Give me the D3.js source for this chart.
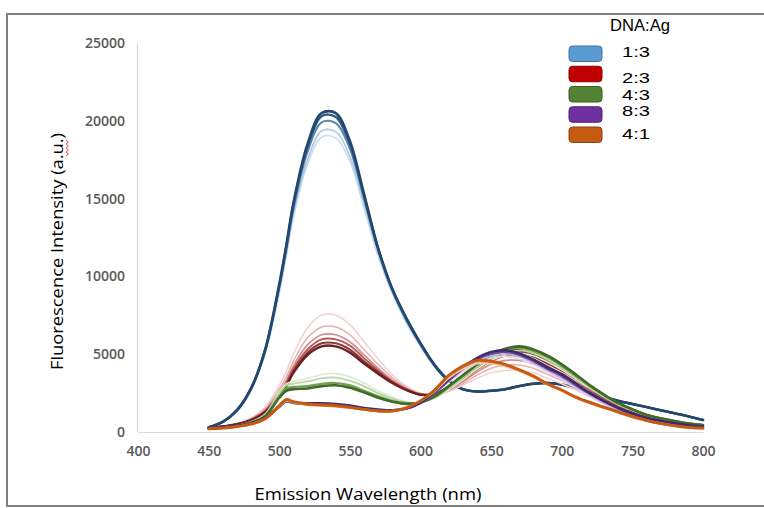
<!DOCTYPE html>
<html><head><meta charset="utf-8">
<script src="https://cdn.jsdelivr.net/npm/d3@7"></script>
<style>body{margin:0;background:#fff;}svg{display:block;}</style>
</head><body>
<script>
// ---------- DATA ----------
const wavelengths = [450,460,470,480,490,500,505,510,520,530,540,550,560,570,580,590,600,610,620,630,640,650,660,670,680,690,700,710,720,730,740,750,760,770,780,790,800];
const xTicks = [400,450,500,550,600,650,700,750,800];
const yTicks = [0,5000,10000,15000,20000,25000];
const ratioLabels = ["1:3","2:3","4:3","8:3","4:1"];
const legendTitle = "DNA:Ag";
const xTitle = "Emission Wavelength (nm)";
const yTitle = "Fluorescence Intensity (a.u.)";

// 1:3 replicates (lightest first)
const ratio13 = [
 [300,600,1300,2650,5000,8900,11300,13800,17200,18950,18900,17400,14400,11300,8900,7000,5500,4200,3250,2750,2600,2650,2750,2950,3100,3150,3050,2800,2500,2250,2000,1800,1600,1400,1200,1000,770],
 [300,650,1350,2700,5100,9100,11500,14000,17500,19350,19300,17700,14700,11500,9000,7100,5550,4200,3250,2750,2600,2650,2750,2950,3100,3150,3050,2800,2500,2250,2000,1800,1600,1400,1200,1000,770],
 [300,650,1350,2750,5200,9300,11700,14300,18000,19900,19850,18200,15000,11700,9100,7200,5600,4250,3300,2750,2600,2650,2750,2950,3100,3150,3050,2800,2500,2250,2000,1800,1600,1400,1200,1000,770],
 [300,650,1400,2800,5250,9400,11900,14600,18300,20300,20250,18500,15200,11800,9200,7300,5700,4300,3300,2750,2600,2650,2750,2950,3100,3150,3050,2800,2500,2250,2000,1800,1600,1400,1200,1000,770],
 [300,650,1400,2800,5300,9500,12000,14700,18500,20500,20500,18700,15300,11800,9200,7300,5700,4300,3300,2750,2600,2650,2750,2950,3100,3150,3050,2800,2500,2250,2000,1800,1600,1400,1200,1000,770]
];
// 2:3 replicates (lightest first)
const ratio23 = [
 [250,350,550,900,1600,3000,3900,5000,6700,7500,7500,6900,5800,4700,3700,2950,2500,2400,2600,3000,3450,3800,3950,3950,3800,3450,3100,2700,2250,1850,1450,1100,850,680,540,430,350],
 [250,350,500,850,1500,2750,3550,4550,6050,6750,6750,6250,5300,4350,3500,2850,2450,2400,2650,3100,3650,4100,4300,4300,4100,3700,3300,2850,2350,1900,1500,1150,880,700,550,440,350],
 [250,350,500,800,1400,2550,3300,4250,5600,6250,6250,5800,4950,4100,3350,2800,2450,2400,2700,3250,3850,4350,4600,4600,4400,4000,3550,3050,2500,2000,1550,1200,900,720,560,450,360],
 [250,350,500,800,1350,2450,3150,4050,5300,5950,5950,5550,4750,3950,3250,2750,2400,2400,2750,3350,4000,4550,4900,4900,4650,4200,3750,3200,2650,2100,1650,1250,950,750,580,460,370],
 [250,350,500,750,1300,2350,3050,3900,5100,5700,5700,5300,4550,3850,3200,2700,2400,2400,2800,3450,4150,4700,5050,5100,4850,4400,3950,3400,2800,2250,1750,1350,1000,780,600,480,380],
 [250,350,500,750,1250,2300,2950,3800,4950,5500,5500,5100,4400,3750,3150,2700,2400,2450,2900,3600,4300,4850,5200,5250,5000,4550,4100,3500,2900,2350,1850,1450,1100,850,650,500,400]
];
// 4:3 replicates (lightest first)
const ratio43 = [
 [250,300,400,650,1150,2550,3100,3250,3450,3700,3750,3550,3150,2650,2250,1950,1900,2150,2700,3350,4050,4600,4950,5050,4900,4500,4000,3400,2800,2250,1750,1380,1060,850,680,540,440],
 [250,300,400,650,1100,2450,3000,3100,3250,3450,3500,3300,2950,2500,2150,1900,1900,2200,2800,3500,4200,4750,5100,5250,5050,4650,4100,3500,2850,2300,1800,1400,1080,860,690,540,440],
 [250,300,400,600,1050,2300,2800,2900,2950,3100,3150,3000,2650,2300,2000,1850,1900,2250,2900,3600,4300,4900,5250,5400,5200,4800,4250,3600,2950,2350,1850,1450,1100,880,700,550,450],
 [250,300,400,600,1000,2200,2650,2750,2800,2950,3000,2850,2550,2200,1950,1800,1900,2300,2950,3650,4350,4950,5350,5500,5300,4900,4350,3700,3000,2400,1850,1450,1100,880,700,550,450]
];
// 8:3 replicates (lightest first)
const ratio83 = [
 [250,300,400,550,900,1600,1950,1850,1800,1800,1750,1650,1500,1400,1400,1550,1950,2500,3200,3850,4400,4750,4850,4700,4300,3850,3350,2800,2300,1800,1400,1080,840,660,520,410,320],
 [250,300,400,550,900,1600,1950,1850,1800,1800,1750,1650,1500,1400,1400,1550,1950,2550,3300,4000,4550,4900,5000,4850,4450,3950,3450,2900,2350,1850,1450,1100,860,680,540,420,330],
 [250,300,400,550,900,1600,1950,1850,1800,1800,1750,1650,1500,1400,1400,1500,1850,2500,3300,4050,4650,5050,5150,4950,4550,4050,3600,3000,2450,1950,1500,1150,900,700,550,430,340],
 [250,300,400,550,900,1650,2000,1900,1850,1850,1800,1700,1550,1450,1400,1500,1900,2600,3400,4150,4750,5150,5250,5050,4650,4150,3700,3100,2500,2000,1550,1200,920,720,560,440,350]
];
// 4:1 replicates (lightest first)
const ratio41 = [
 [200,250,350,500,850,1650,2000,1900,1750,1700,1650,1550,1450,1350,1350,1550,2000,2600,3450,4050,4400,4400,4200,3900,3500,3050,2650,2200,1850,1550,1250,950,720,530,390,290,240],
 [200,250,350,500,850,1650,2050,1900,1750,1700,1650,1550,1450,1350,1350,1550,2000,2650,3600,4200,4550,4500,4300,3950,3550,3050,2650,2200,1850,1550,1250,950,720,530,390,290,240],
 [200,250,350,500,850,1700,2100,1950,1800,1750,1700,1600,1450,1350,1350,1550,2000,2700,3650,4250,4600,4550,4350,4000,3600,3100,2700,2250,1900,1600,1300,1000,750,550,400,300,250]
];

// ---------- STYLE ----------
const groups = [
  {label: ratioLabels[0], reps: ratio13, swatch:"#5b9bd5", swatchStroke:"#41719c",
   colors:["#c9dcef","#a9c7e6","#5f85ad","#2e5a86","#23466d"], widths:[1.6,1.6,2,2.4,2.6]},
  {label: ratioLabels[1], reps: ratio23, swatch:"#c00000", swatchStroke:"#8f0000",
   colors:["#f2d0d0","#e8b0b0","#d68c8c","#b45a5a","#8f3838","#6d2020"], widths:[1.5,1.5,1.7,1.9,2.1,2.4]},
  {label: ratioLabels[2], reps: ratio43, swatch:"#548235", swatchStroke:"#3b5e25",
   colors:["#dcebd0","#b9d7a3","#6f9f4f","#426b28"], widths:[1.6,1.8,2.2,2.6]},
  {label: ratioLabels[3], reps: ratio83, swatch:"#7030a0", swatchStroke:"#4f2272",
   colors:["#e2daf0","#c3b3de","#6a4aa0","#3f2a6e"], widths:[1.6,1.8,2.2,2.5]},
  {label: ratioLabels[4], reps: ratio41, swatch:"#c55a11", swatchStroke:"#8f400c",
   colors:["#f6c9a6","#e58a3e","#c65a12"], widths:[1.8,2.3,2.8]}
];

const W = 764, H = 508;
const svg = d3.select("body").append("svg").attr("width", W).attr("height", H);
svg.append("rect").attr("width", W).attr("height", H).attr("fill", "#fff");

// outer frame
svg.append("path").attr("d", `M764,14 H7 V506 H764`).attr("fill","none")
   .attr("stroke","#7f7f7f").attr("stroke-width",2);

const x = d3.scaleLinear().domain([400,800]).range([138,703]);
const y = d3.scaleLinear().domain([0,25000]).range([432,43]);

const tickFont = "'Open Sans', 'DejaVu Sans', sans-serif";
// axes
const gy = svg.append("g").attr("transform","translate(137,0)")
  .call(d3.axisLeft(y).tickValues(yTicks).tickSize(0).tickPadding(12).tickFormat(d3.format("d")));
const gx = svg.append("g").attr("transform","translate(0,432)")
  .call(d3.axisBottom(x).tickValues(xTicks).tickSize(0).tickPadding(14).tickFormat(d3.format("d")));
[gx, gy].forEach(g => {
  g.select(".domain").attr("stroke","#d9d9d9").attr("stroke-width",1.2);
  g.selectAll("text").attr("font-family", tickFont).attr("font-size", 14)
    .attr("font-weight", 600).attr("fill","#595959");
});

// curves
const line = d3.line()
  .x((d,i) => x(wavelengths[i]))
  .y(d => y(d))
  .curve(d3.curveCatmullRom.alpha(0.5));

const plot = svg.append("g");
groups.forEach(g => {
  g.reps.forEach((rep, k) => {
    plot.append("path").attr("d", line(rep)).attr("fill","none")
      .attr("stroke", g.colors[k]).attr("stroke-width", g.widths[k])
      .attr("stroke-linejoin","round").attr("stroke-linecap","round");
  });
});

// axis titles
const titleFont = "'Open Sans', 'DejaVu Sans', sans-serif";
svg.append("text").text(yTitle)
  .attr("transform","translate(63,251.5) rotate(-90)")
  .attr("text-anchor","middle").attr("font-family", titleFont).attr("font-size", 16)
  .attr("textLength", 237).attr("lengthAdjust","spacingAndGlyphs").attr("fill","#000");
// spell-check squiggle under "a.u."
const sq = d3.path();
sq.moveTo(66,156);
for (let i = 0; i < 8; i++) { sq.lineTo(i % 2 ? 66 : 68.5, 156 - (i+1) * 2); }
svg.append("path").attr("d", sq.toString()).attr("fill","none").attr("stroke","#e03c3c").attr("stroke-width",0.9);

svg.append("text").text(xTitle)
  .attr("x", 368).attr("y", 500)
  .attr("text-anchor","middle").attr("font-family", titleFont).attr("font-size", 16)
  .attr("textLength", 227).attr("lengthAdjust","spacingAndGlyphs").attr("fill","#000");

// legend
const legendFont = "'Liberation Sans', Arial, sans-serif";
const legendLabelY = [52, 78, 95, 111, 134];
svg.append("text").text(legendTitle).attr("x", 610).attr("y", 31)
  .attr("font-family", legendFont).attr("font-size", 16.5)
  .attr("textLength", 60).attr("lengthAdjust","spacingAndGlyphs").attr("fill","#000");
groups.forEach((g, i) => {
  svg.append("rect").attr("x", 569).attr("y", 46 + i * 20.25).attr("width", 33).attr("height", 15.5)
    .attr("rx", 3.5).attr("fill", g.swatch).attr("stroke", g.swatchStroke).attr("stroke-width", 1);
  svg.append("text").text(g.label).attr("x", 622).attr("y", legendLabelY[i])
    .attr("dominant-baseline","central")
    .attr("font-family", legendFont).attr("font-size", 14)
    .attr("textLength", 28).attr("lengthAdjust","spacingAndGlyphs").attr("fill","#000");
});
</script>
</body></html>
